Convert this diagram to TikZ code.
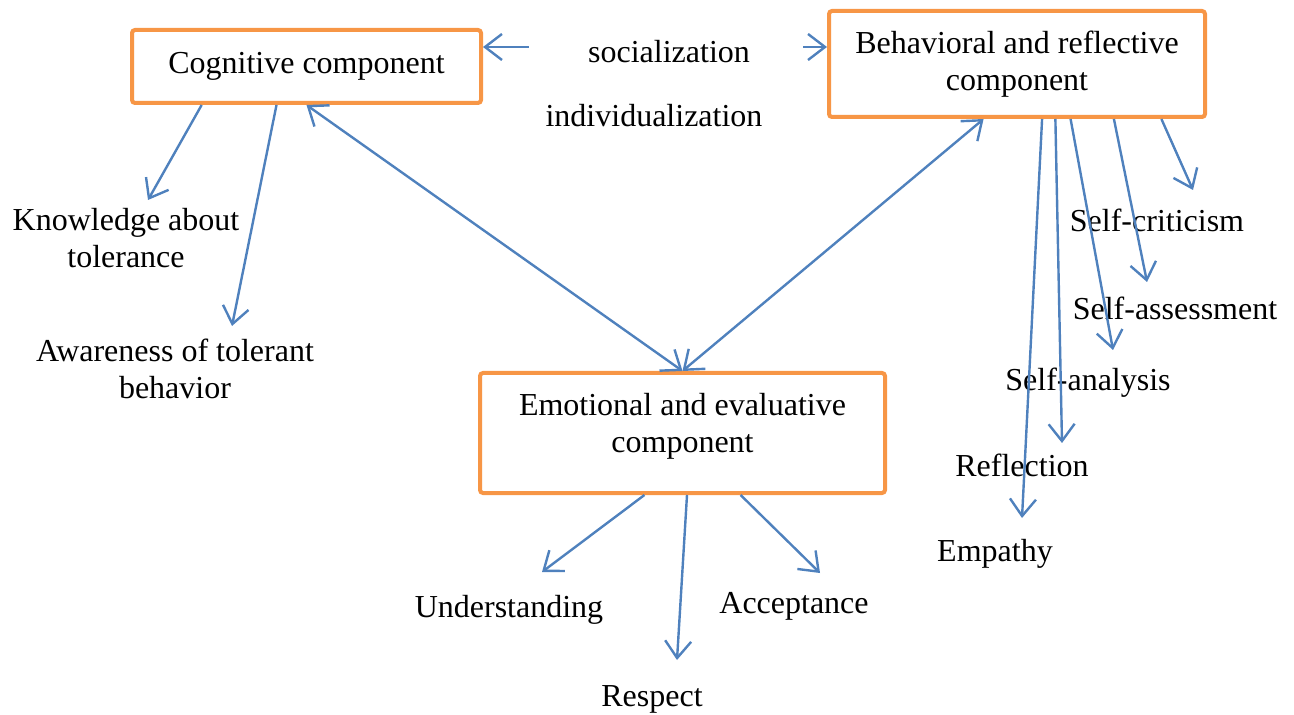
\documentclass[tikz,border=0pt]{standalone}
\usepackage{fontspec}
\setmainfont{Liberation Serif}
\definecolor{oorange}{HTML}{F79646}
\definecolor{bblue}{HTML}{4F81BD}
\usetikzlibrary{arrows.meta,calc}

\begin{document}
\begin{tikzpicture}[x=0.5pt,y=-0.5pt,
      every node/.style={font=\fontsize{16}{18.5}\selectfont,align=center,inner sep=0pt},
      comp/.style={draw=oorange,line width=2pt,fill=white,rounded corners=1.5pt},
      lbl/.style={text=black},
      >={Straight Barb[length=8.5pt,width=13pt]},
      arr/.style={draw=bblue,line width=1.2pt,->},
      dbl/.style={draw=bblue,line width=1.2pt,<->}]
    \useasboundingbox (0,0) rectangle (1294,715);
    % the three components
    \node[comp,minimum width=174.5pt,minimum height=36.5pt] (cog) at (306.5,66.5) {Cognitive component};
    \node[comp,minimum width=188pt,minimum height=53pt] (beh) at (1017,64) {Behavioral and reflective\\component};
    \node[comp,minimum width=202.5pt,minimum height=60pt] (emo) at (682.5,433) {Emotional and evaluative\\component\\[-8pt]\mbox{}};
    % labels
    \node[lbl] (soc) at (669,52) {socialization};
    \node[lbl] (ind) at (654,116) {individualization};
    \node[lbl] (know) at (126,238.5) {Knowledge about\\tolerance};
    \node[lbl] (aware) at (175,369) {Awareness of tolerant\\behavior};
    \node[lbl] (crit) at (1157,220) {Self-criticism};
    \node[lbl] (asses) at (1175,308) {Self-assessment};
    \node[lbl] (sana) at (1088,383) {Self-analysis};
    \node[lbl] (refl) at (1022,465) {Reflection};
    \node[lbl] (emp) at (995,554) {Empathy};
    \node[lbl] (und) at (509,610) {Understanding};
    \node[lbl] (acc) at (794,606) {Acceptance};
    \node[lbl] (resp) at (652,699) {Respect};
    % socialization / individualization
    \coordinate (socL) at ($(soc.west)+(-59,-5)$);
    \coordinate (socR) at ($(soc.east)+(53,-5)$);
    \draw[arr] (socL) -- (socL -| cog.east);
    \draw[arr] (socR) -- (socR -| beh.west);
    % links between components
    \draw[dbl] (cog.south) -- (emo.north);
    \draw[dbl] ($(beh.south west)!0.412!(beh.south east)$) -- (emo.north);
    % cognitive
    \draw[arr] ($(cog.south west)!0.203!(cog.south east)$) -- ($(know)+(22,-38.5)$);
    \draw[arr] ($(cog.south west)!0.415!(cog.south east)$) -- ($(aware)+(57,-43)$);
    % behavioral and reflective
    \draw[arr] ($(beh.south west)!0.566!(beh.south east)$) -- ($(emp)+(27,-36)$);
    \draw[arr] ($(beh.south west)!0.601!(beh.south east)$) -- ($(refl)+(40,-22)$);
    \draw[arr] ($(beh.south west)!0.641!(beh.south east)$) -- ($(sana)+(25,-33)$);
    \draw[arr] ($(beh.south west)!0.755!(beh.south east)$) -- ($(asses)+(-28,-26)$);
    \draw[arr] ($(beh.south west)!0.880!(beh.south east)$) -- ($(crit)+(36,-30)$);
    % emotional and evaluative
    \draw[arr] ($(emo.south west)!0.407!(emo.south east)$) -- ($(und)+(33,-38)$);
    \draw[arr] ($(emo.south west)!0.511!(emo.south east)$) -- ($(resp)+(25,-39)$);
    \draw[arr] ($(emo.south west)!0.642!(emo.south east)$) -- ($(acc)+(26,-33)$);
  \end{tikzpicture}
\end{document}
